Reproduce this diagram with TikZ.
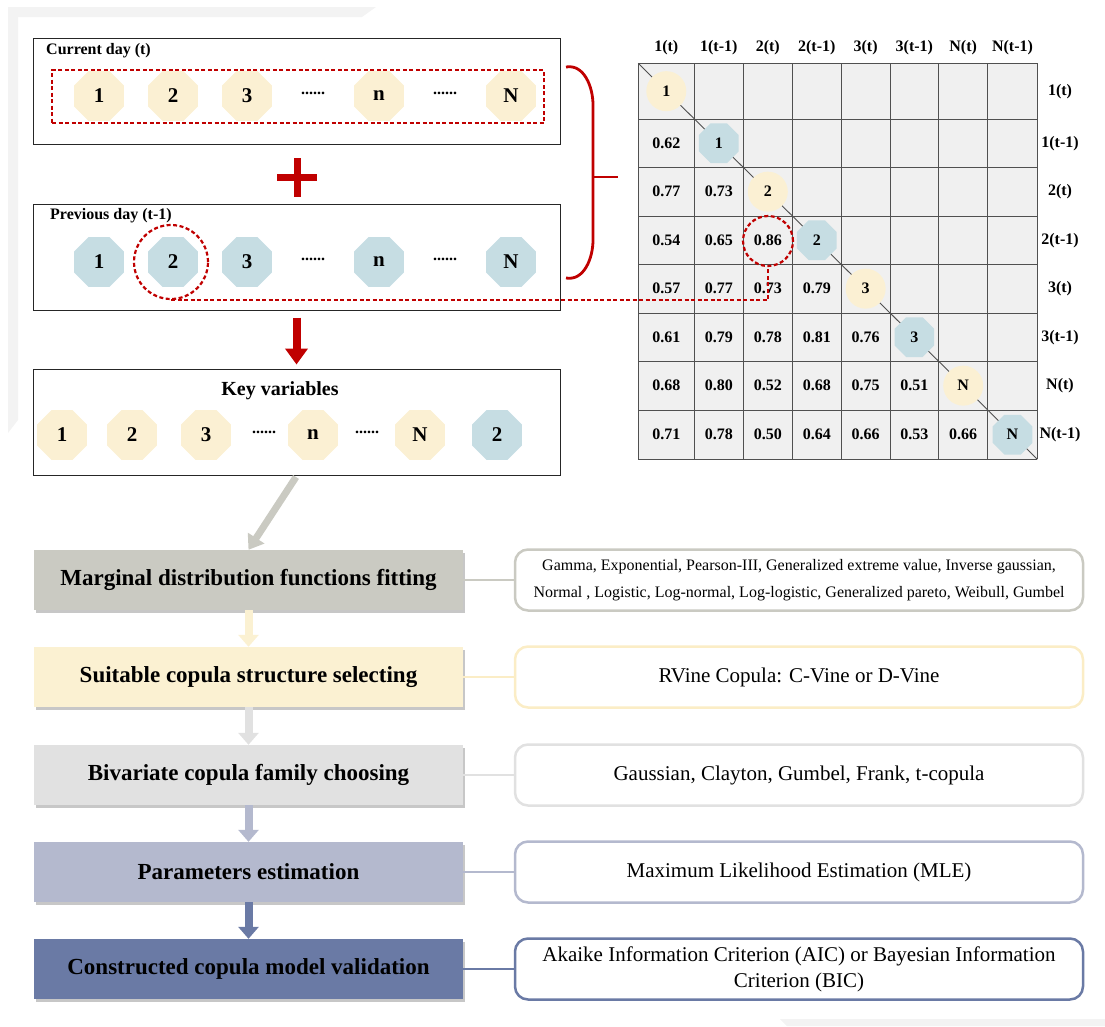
\documentclass[tikz,border=0pt]{standalone}
\usepackage{fontspec}
\setmainfont{Liberation Serif}
\usetikzlibrary{shapes.geometric,arrows.meta,shadows}
\definecolor{dred}{HTML}{C00000}
\definecolor{oyel}{HTML}{FBF0D3}
\definecolor{oblu}{HTML}{C6DDE3}
\definecolor{cellg}{HTML}{F0F0F0}
\definecolor{gridc}{HTML}{505050}
\definecolor{fa}{HTML}{CACAC2}
\definecolor{fb}{HTML}{FBF1D2}
\definecolor{fc}{HTML}{E1E1E1}
\definecolor{fd}{HTML}{B4B9CE}
\definecolor{fe}{HTML}{6A7AA5}
\definecolor{bb}{HTML}{FBEDC6}
\definecolor{bgf}{HTML}{F3F3F3}
\begin{document}
\begin{tikzpicture}[x=1pt,y=-1pt,
  panel/.style={draw=black!85,line width=1pt,minimum width=527pt,minimum height=106pt,inner sep=0pt},
  lbl/.style={font=\bfseries\fontsize{16}{18}\selectfont,anchor=west,inner sep=0pt},
  octy/.style={regular polygon,regular polygon sides=8,fill=oyel,minimum size=54pt,inner sep=0pt,font=\bfseries\fontsize{21}{24}\selectfont},
  octb/.style={octy,fill=oblu},
  dotsn/.style={font=\bfseries\fontsize{16}{18}\selectfont,inner sep=0pt},
  reddash/.style={draw=dred,line width=2.2pt,dash pattern=on 4pt off 2.5pt},
  mcirc/.style={circle,fill=oyel,minimum size=40pt,inner sep=0pt,font=\bfseries\fontsize{16}{18}\selectfont},
  moct/.style={regular polygon,regular polygon sides=8,fill=oblu,minimum size=43pt,inner sep=0pt,font=\bfseries\fontsize{16}{18}\selectfont},
  val/.style={font=\bfseries\fontsize{16}{18}\selectfont,inner sep=0pt},
  hdr/.style={font=\bfseries\fontsize{16}{18}\selectfont,inner sep=0pt},
  flow/.style={rectangle,minimum width=429pt,minimum height=60pt,inner sep=0pt,font=\bfseries\fontsize{23}{27}\selectfont,
    drop shadow={shadow xshift=2pt,shadow yshift=-3pt,fill=black,opacity=0.22}},
  info/.style={rectangle,rounded corners=13pt,line width=2.5pt,fill=white,minimum width=568pt,minimum height=61pt,inner sep=0pt,align=center,font=\fontsize{21}{26}\selectfont},
  link/.style={line width=2pt},
  farrow/.style={line width=8pt,-{Triangle[width=20pt,length=12pt]}}
]
\useasboundingbox (0,0) rectangle (1105,1026);
% faint background frame
\fill[bgf] (8,7) -- (376,7) -- (362,17) -- (18,17) -- (18,420) -- (8,433) -- cycle;
\fill[bgf] (780,1019) -- (1105,1019) -- (1105,1026) -- (787,1026) -- cycle;

% ---------- left panels ----------
\node[panel] (cur) at (296.5,91) {};
\node[lbl] (curl) at (46,51) {Current day (t)};
\node[reddash,rectangle,minimum width=492pt,minimum height=53pt,inner sep=0pt] (sel) at (298,96.5) {};
\node[octy] (c1) at (99,96) {1};
\node[octy] (c2) at (173,96) {2};
\node[octy] (c3) at (247,96) {3};
\node[dotsn] (cd1) at (313,93) {......};
\node[octy] (cn) at (379,96) {n};
\node[dotsn] (cd2) at (445,93) {......};
\node[octy] (cN) at (511,96) {N};

% plus
\draw[dred,line width=7pt] (277,177) -- (317,177) (297,158) -- (297,197);

\node[panel] (prev) at (296.5,257) {};
\node[lbl] (prevl) at (50,216) {Previous day (t-1)};
\node[octb] (p1) at (99,262) {1};
\node[octb] (p2) at (173,262) {2};
\node[octb] (p3) at (247,262) {3};
\node[dotsn] (pd1) at (313,259) {......};
\node[octb] (pn) at (379,262) {n};
\node[dotsn] (pd2) at (445,259) {......};
\node[octb] (pN) at (511,262) {N};
\node[reddash,circle,minimum size=74pt,inner sep=0pt] (pc) at (171,262) {};

% brace
\draw[dred,line width=2.8pt] (566,67) to[out=10,in=90] (593,105) -- (593,240) to[out=-90,in=-10] (566,278);
\coordinate (bm) at (593,177);
\coordinate (be) at (618,177);
\draw[dred,line width=2.8pt] (bm) -- (be);

% red arrow
\node[panel] (kb) at (296.5,422) {};
\draw[dred,line width=8pt,-{Triangle[width=22pt,length=16pt]},shorten <=7pt,shorten >=4pt] (prev.south) -- (kb.north);
\node[font=\bfseries\fontsize{20}{24}\selectfont,inner sep=0pt] (kbt) at (280,391) {Key variables};
\node[octy] (k1) at (62,435) {1};
\node[octy] (k2) at (132,435) {2};
\node[octy] (k3) at (206,435) {3};
\node[dotsn] (kd1) at (264,432) {......};
\node[octy] (kn) at (313,435) {n};
\node[dotsn] (kd2) at (367,432) {......};
\node[octy] (kN) at (420,435) {N};
\node[octb] (k2b) at (497,435) {2};

% ---------- matrix ----------
\def\cx{{666.3,718.8,767.8,816.8,865.65,914.35,963.2,1012.5}}
\def\cy{{91.15,143.15,191.65,240.15,288.65,337.15,385.65,434.65}}
\fill[cellg] (638.3,63.3) rectangle (1037.3,459.3);
\foreach \x in {638.3,694.3,743.3,792.3,841.3,890,938.7,987.7,1037.3}
  \draw[gridc,line width=0.9pt] (\x,63.3) -- (\x,459.3);
\foreach \y in {63.3,119,167.3,216,264.3,313,361.3,410,459.3}
  \draw[gridc,line width=0.9pt] (638.3,\y) -- (1037.3,\y);
\foreach \i in {1,...,8}
  \coordinate (d\i) at ({\cx[\i-1]},{\cy[\i-1]});
\draw[gridc,line width=0.9pt] (638.3,63.3) -- (d1) -- (d2) -- (d3) -- (d4) -- (d5) -- (d6) -- (d7) -- (d8) -- (1037.3,459.3);
\node[mcirc] (m1) at (d1) {1};
\node[moct] (m2) at (d2) {1};
\node[mcirc] (m3) at (d3) {2};
\node[moct] (m4) at (d4) {2};
\node[mcirc] (m5) at (d5) {3};
\node[moct] (m6) at (d6) {3};
\node[mcirc] (m7) at (d7) {N};
\node[moct] (m8) at (d8) {N};
\foreach \t [count=\c] in {{1(t)},{1(t-1)},{2(t)},{2(t-1)},{3(t)},{3(t-1)},{N(t)},{N(t-1)}}{
  \node[hdr] (h\c) at ({\cx[\c-1]},48) {\t};
  \node[hdr] (r\c) at (1060,{\cy[\c-1]}) {\t};
}
\foreach \r/\vals in {2/{0.62},3/{0.77,0.73},4/{0.54,0.65,0.86},5/{0.57,0.77,0.73,0.79},
  6/{0.61,0.79,0.78,0.81,0.76},7/{0.68,0.80,0.52,0.68,0.75,0.51},8/{0.71,0.78,0.50,0.64,0.66,0.53,0.66}}{
  \foreach \v [count=\c] in \vals
    \node[val] (v\r-\c) at ({\cx[\c-1]},{\cy[\r-1]}) {\v};
}
\node[reddash,circle,minimum size=50pt,inner sep=0pt] (hl) at (768,241) {};
\draw[reddash] (pc.south) -| (hl.south);

% ---------- flow ----------
\node[flow,fill=fa] (f1) at (248.5,580) {Marginal distribution functions fitting};
\node[flow,fill=fb] (f2) at (248.5,677) {Suitable copula structure selecting};
\node[flow,fill=fc] (f3) at (248.5,775) {Bivariate copula family choosing};
\node[flow,fill=fd] (f4) at (248.5,872) {Parameters estimation};
\node[flow,fill=fe] (f5) at (248.5,969) {Constructed copula model validation};
\coordinate (ga) at (296,477);
\draw[fa,line width=7pt,-{Triangle[width=19pt,length=14pt]}] (ga) -- (f1.north);
\draw[fb,farrow] (f1.south) -- (f2.north);
\draw[fc,farrow] (f2.south) -- (f3.north);
\draw[fd,farrow] (f3.south) -- (f4.north);
\draw[fe,farrow] (f4.south) -- (f5.north);

\node[info,draw=fa,font=\fontsize{16}{27}\selectfont] (i1) at (799,580) {Gamma, Exponential, Pearson-III, Generalized extreme value, Inverse gaussian,\\Normal , Logistic, Log-normal, Log-logistic, Generalized pareto, Weibull, Gumbel};
\node[info,draw=bb] (i2) at (799,677) {RVine Copula: C-Vine or D-Vine};
\node[info,draw=fc] (i3) at (799,775) {Gaussian, Clayton, Gumbel, Frank, t-copula};
\node[info,draw=fd] (i4) at (799,872) {Maximum Likelihood Estimation (MLE)};
\node[info,draw=fe] (i5) at (799,969) {Akaike Information Criterion (AIC) or Bayesian Information\\Criterion (BIC)};
\draw[fa,link] (f1.east) -- (i1.west);
\draw[bb,link] (f2.east) -- (i2.west);
\draw[fc,link] (f3.east) -- (i3.west);
\draw[fd,link] (f4.east) -- (i4.west);
\draw[fe,link] (f5.east) -- (i5.west);
\end{tikzpicture}
\end{document}
